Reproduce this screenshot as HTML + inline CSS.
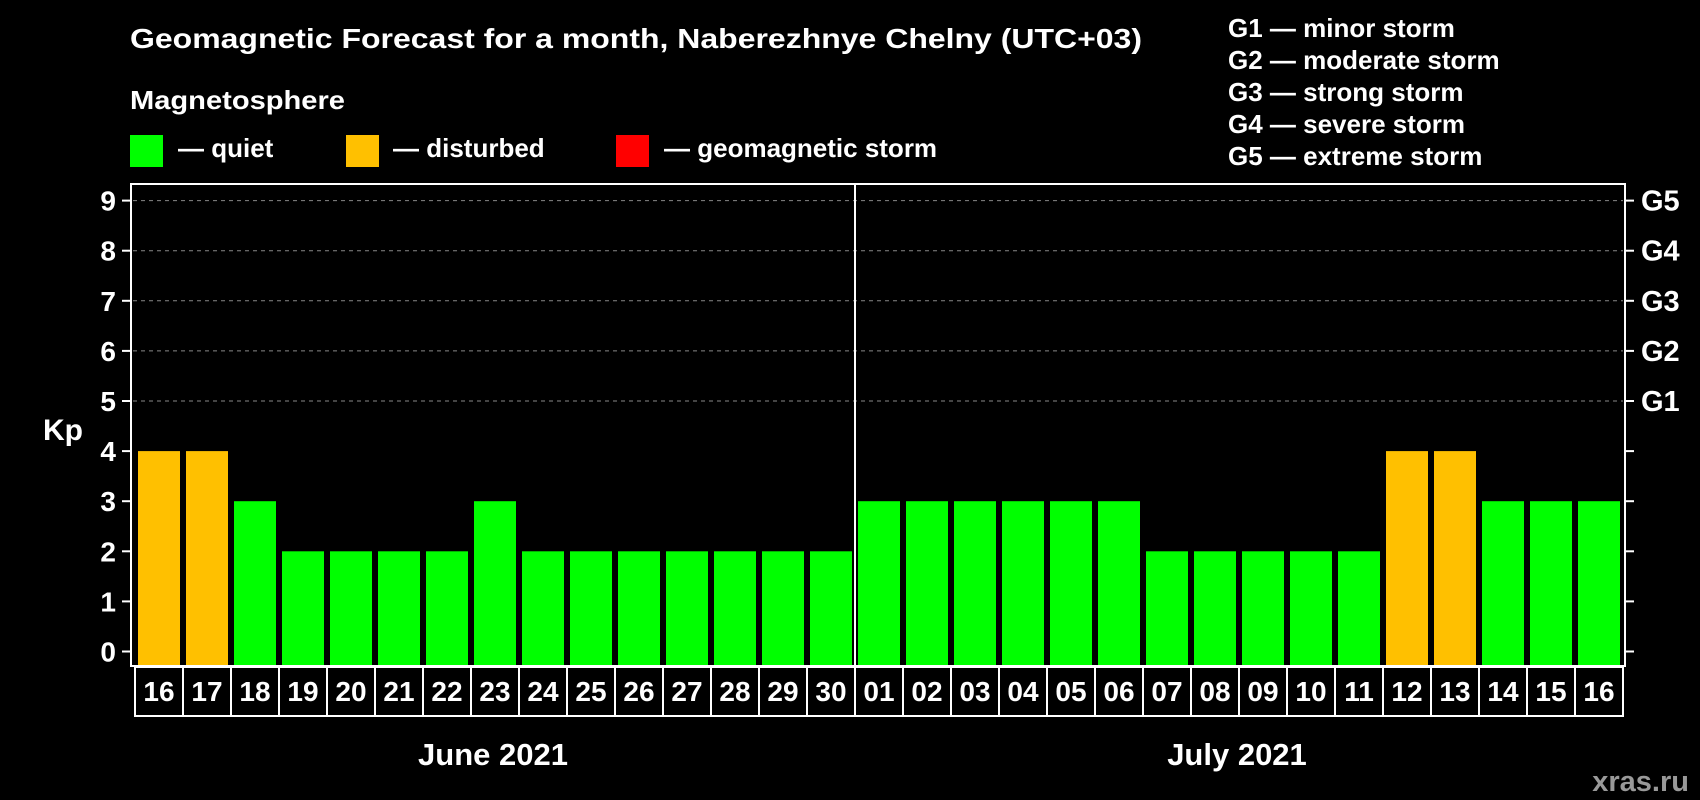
<!DOCTYPE html>
<html><head><meta charset="utf-8"><style>
html,body{margin:0;padding:0;background:#000;}
svg{display:block;font-family:"Liberation Sans",Arial,sans-serif;font-weight:bold;}
</style></head><body>
<svg id="chart" width="1700" height="800" viewBox="0 0 1700 800" xmlns="http://www.w3.org/2000/svg">
<rect width="1700" height="800" fill="#000"/>
<text x="130" y="48" fill="#fff" font-size="28" textLength="1012" lengthAdjust="spacingAndGlyphs">Geomagnetic Forecast for a month, Naberezhnye Chelny (UTC+03)</text>
<text x="130" y="109" fill="#fff" font-size="26" textLength="215" lengthAdjust="spacingAndGlyphs">Magnetosphere</text>
<g><rect x="130" y="135" width="33" height="32" fill="#00ff00"/><text x="178" y="157" fill="#fff" font-size="26">— quiet</text></g>
<g><rect x="346" y="135" width="33" height="32" fill="#ffc000"/><text x="393" y="157" fill="#fff" font-size="26">— disturbed</text></g>
<g><rect x="616" y="135" width="33" height="32" fill="#ff0000"/><text x="664" y="157" fill="#fff" font-size="26">— geomagnetic storm</text></g>
<g fill="#fff" font-size="26">
<text x="1228" y="37">G1 — minor storm</text>
<text x="1228" y="69">G2 — moderate storm</text>
<text x="1228" y="101">G3 — strong storm</text>
<text x="1228" y="133">G4 — severe storm</text>
<text x="1228" y="165">G5 — extreme storm</text>
</g>
<g id="grid"></g>
<g id="bars"></g>
<rect x="131" y="184" width="1494" height="482" fill="none" stroke="#fff" stroke-width="2"/>
<line x1="855" y1="184" x2="855" y2="666" stroke="#fff" stroke-width="2"/>
<g id="axes"></g>
<text x="63" y="440" fill="#fff" font-size="30" text-anchor="middle">Kp</text>
<text x="493" y="765" fill="#fff" font-size="31" text-anchor="middle">June 2021</text>
<text x="1237" y="765" fill="#fff" font-size="31" text-anchor="middle">July 2021</text>
<text x="1689" y="791" fill="#999" font-size="29" text-anchor="end">xras.ru</text>
</svg>
<script>
const days = ["16","17","18","19","20","21","22","23","24","25","26","27","28","29","30","01","02","03","04","05","06","07","08","09","10","11","12","13","14","15","16"];
const kp = [4,4,3,2,2,2,2,3,2,2,2,2,2,2,2,3,3,3,3,3,3,2,2,2,2,2,4,4,3,3,3];
const yTicks = [0,1,2,3,4,5,6,7,8,9];
const gLabels = ["G1","G2","G3","G4","G5"];
const gLevels = [5,6,7,8,9];

const NS = "http://www.w3.org/2000/svg";
const y = v => 651.5 - v * 50.1;
const x = i => 138 + i * 48;
const BASE = 665;
const color = v => v >= 5 ? "#ff0000" : (v >= 4 ? "#ffc000" : "#00ff00");
function mk(tag, attrs, parent){const e=document.createElementNS(NS,tag);for(const k in attrs)e.setAttribute(k,attrs[k]);parent.appendChild(e);return e;}
const grid=document.getElementById("grid"), bars=document.getElementById("bars"), axes=document.getElementById("axes");

gLevels.forEach(v=>{
  const l=mk("line",{x1:133,x2:1623,y1:y(v),y2:y(v),stroke:"#888","stroke-width":1,"stroke-dasharray":"4,4"},grid);
  
  
});
kp.forEach((v,i)=>{
  const r=mk("rect",{x:x(i),y:y(v),width:42,height:BASE - y(v),fill:color(v)},bars);
  
  
});
yTicks.forEach(v=>{
  const t=mk("line",{x1:122,x2:131,y1:y(v),y2:y(v),stroke:"#fff","stroke-width":2},axes);
  
  
  const t2=mk("line",{x1:1625,x2:1634,y1:y(v),y2:y(v),stroke:"#fff","stroke-width":2},axes);
  
  
  const lb=mk("text",{x:116,y:y(v)+10,fill:"#fff","font-size":28,"text-anchor":"end"},axes);
  lb.textContent=v;
  
  
});
gLabels.forEach((g,i)=>{
  const lb=mk("text",{x:1641,y:y(gLevels[i])+10,fill:"#fff","font-size":29},axes);
  lb.textContent=g;
  
  
});
days.forEach((d,i)=>{
  const b=mk("rect",{x:x(i)-3,y:667,width:48,height:49,fill:"none",stroke:"#fff","stroke-width":2},axes);
  
  
  const lb=mk("text",{x:x(i)+21,y:701,fill:"#fff","font-size":28,"text-anchor":"middle"},axes);
  lb.textContent=d;
  
  
});
</script>
</body></html>
